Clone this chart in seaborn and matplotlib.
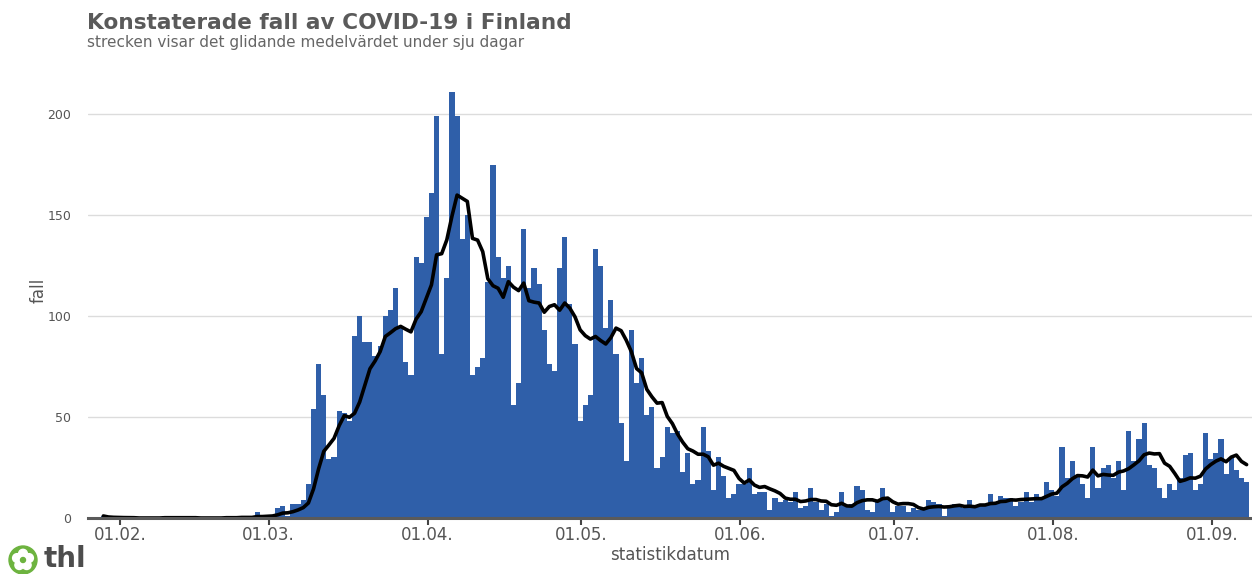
import numpy as np
import pandas as pd
import matplotlib
matplotlib.use("Agg")
import matplotlib.pyplot as plt
import matplotlib.dates as mdates
from matplotlib.patches import Circle
import seaborn as sns

# ---------------- data ----------------
start_date = "2020-01-28"
cases = [
    # Jan 28 - Feb 29
    1, 0, 0, 0, 0, 0, 0, 0, 0, 0, 0, 0, 1, 0, 0, 0, 0, 0, 0, 0, 0, 0, 0, 0,
    1, 0, 0, 1, 0, 0, 3, 1, 1,
    # Mar 1 - Mar 31
    1, 5, 6, 1, 7, 7, 9, 17, 54, 76, 61, 29, 30, 53, 52, 48, 90, 100, 87, 87,
    80, 85, 100, 103, 114, 95, 77, 71, 129, 126, 149,
    # Apr 1 - Apr 30
    161, 199, 81, 119, 211, 199, 138, 150, 71, 75, 79, 117, 175, 129, 119,
    125, 56, 67, 143, 114, 124, 116, 93, 76, 73, 124, 139, 106, 86, 48,
    # May 1 - May 31
    56, 61, 133, 125, 94, 108, 81, 47, 28, 93, 67, 79, 51, 55, 25, 30, 45,
    42, 43, 23, 32, 17, 19, 45, 33, 14, 30, 21, 10, 12, 17,
    # Jun 1 - Jun 30
    17, 25, 12, 13, 13, 4, 10, 8, 9, 8, 13, 5, 6, 15, 8, 4, 7, 1, 3, 13, 6,
    7, 16, 14, 4, 3, 8, 15, 9, 3,
    # Jul 1 - Jul 31
    6, 6, 3, 5, 4, 4, 9, 8, 7, 1, 6, 7, 6, 5, 9, 5, 7, 6, 12, 7, 11, 10, 10,
    6, 8, 13, 8, 12, 10, 18, 14,
    # Aug 1 - Aug 31
    11, 35, 20, 28, 21, 17, 10, 35, 15, 25, 26, 20, 28, 14, 43, 28, 39, 47,
    26, 25, 15, 10, 17, 14, 20, 31, 32, 14, 17, 42, 29,
    # Sep 1 - Sep 7
    32, 39, 22, 30, 24, 20, 18,
]
tick_dates = ["2020-02-01", "2020-03-01", "2020-04-01", "2020-05-01",
              "2020-06-01", "2020-07-01", "2020-08-01", "2020-09-01"]
tick_labels = ["01.02.", "01.03.", "01.04.", "01.05.",
               "01.06.", "01.07.", "01.08.", "01.09."]
title = "Konstaterade fall av COVID-19 i Finland"
subtitle = "strecken visar det glidande medelvärdet under sju dagar"

# ---------------- build frame ----------------
dates = pd.date_range(start_date, periods=len(cases), freq="D")
df = pd.DataFrame({"date": dates, "fall": cases})
df["x"] = mdates.date2num(df["date"]) + 0.75
df["avg"] = df["fall"].rolling(7, min_periods=1).mean()

# ---------------- style ----------------
sns.set_theme(style="white")
plt.rcParams["font.family"] = ["DejaVu Sans"]

W, H = 1252, 574
fig = plt.figure(figsize=(W / 100, H / 100), dpi=100)
ax = fig.add_axes([88 / W, 56 / H, (W - 88) / W, (518 - 63.5) / H])

bar_color = "#2f5fa9"
sns.barplot(data=df, x="x", y="fall", native_scale=True, width=1.0,
            color=bar_color, saturation=1, linewidth=0, errorbar=None, ax=ax)
sns.lineplot(data=df, x="x", y="avg", color="black", linewidth=2.6, ax=ax)

feb1 = mdates.date2num(pd.Timestamp("2020-02-01"))
ax.set_xlim(feb1 - 6.24, feb1 + 220.8)
ax.set_ylim(0, 225)

ax.set_yticks([0, 50, 100, 150, 200])
ax.set_yticklabels(["0", "50", "100", "150", "200"])
ax.yaxis.grid(True, color="#dcdcdc", linewidth=1.0)
ax.xaxis.grid(False)
ax.set_axisbelow(True)

ax.set_xticks([mdates.date2num(pd.Timestamp(d)) for d in tick_dates])
ax.set_xticklabels(tick_labels)

for s in ["top", "right", "left"]:
    ax.spines[s].set_visible(False)
ax.spines["bottom"].set_color("#5a5a5a")
ax.spines["bottom"].set_linewidth(2.2)
ax.spines["bottom"].set_zorder(5)

ax.tick_params(axis="x", length=5, width=1.5, color="#444444",
               labelsize=12, labelcolor="#555555", pad=1, bottom=True)
ax.tick_params(axis="y", length=0, labelsize=9, labelcolor="#555555", pad=12)

ax.set_xlabel("statistikdatum", fontsize=12, color="#555555", labelpad=1)
ax.set_ylabel("fall", fontsize=12, color="#555555", labelpad=0)

fig.text(87 / W, 1 - 23 / H, title, fontsize=15.6, fontweight="bold",
         color="#5a5a5a", va="center", ha="left")
fig.text(87 / W, 1 - 42 / H, subtitle, fontsize=11, color="#666666",
         va="center", ha="left")

# thl logo
logo_ax = fig.add_axes([0, 0, 1, 1], facecolor="none")
logo_ax.set_xlim(0, W)
logo_ax.set_ylim(H, 0)
logo_ax.axis("off")
logo_ax.add_patch(Circle((23, 560), 14, color="#6db33f"))
for k in range(5):
    a = np.pi / 2 + k * 2 * np.pi / 5
    logo_ax.add_patch(Circle((23 + 6.3 * np.cos(a), 560 - 6.3 * np.sin(a)), 4.4,
                             color="white"))
logo_ax.add_patch(Circle((23, 560), 2.5, color="#6db33f"))
logo_ax.text(44, 567, "thl", fontsize=20, fontweight="bold", color="#4d4d4d",
             va="baseline", ha="left")

fig.savefig("out.png", dpi=100)
